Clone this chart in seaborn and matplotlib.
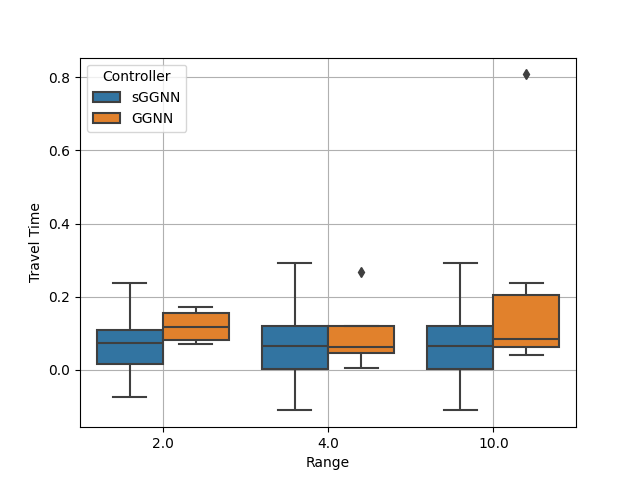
import matplotlib
matplotlib.use("Agg")
import matplotlib.pyplot as plt
import seaborn as sns
import pandas as pd

ranges = [2.0, 4.0, 10.0]
controllers = ["sGGNN", "GGNN"]

# Sample travel times per (range, controller), chosen to reproduce the box statistics
sggnn_2 = [-0.073, 0.0, 0.015, 0.05, 0.074, 0.09, 0.110, 0.15, 0.237]
ggnn_2 = [0.070, 0.075, 0.081, 0.10, 0.117, 0.13, 0.156, 0.165, 0.171]
sggnn_4 = [-0.111, -0.05, 0.003, 0.03, 0.065, 0.09, 0.120, 0.2, 0.291]
ggnn_4 = [0.006, 0.03, 0.047, 0.055, 0.062, 0.09, 0.121, 0.121, 0.268]
sggnn_10 = [-0.111, -0.05, 0.003, 0.03, 0.065, 0.09, 0.120, 0.2, 0.291]
ggnn_10 = [0.040, 0.05, 0.062, 0.07, 0.084, 0.15, 0.206, 0.237, 0.808]

groups = {
    (2.0, "sGGNN"): sggnn_2, (2.0, "GGNN"): ggnn_2,
    (4.0, "sGGNN"): sggnn_4, (4.0, "GGNN"): ggnn_4,
    (10.0, "sGGNN"): sggnn_10, (10.0, "GGNN"): ggnn_10,
}
rows = []
for (r, c), vals in groups.items():
    for v in vals:
        rows.append({"Range": r, "Controller": c, "Travel Time": v})
df = pd.DataFrame(rows)

fig, ax = plt.subplots(figsize=(6.4, 4.8), dpi=100)
line_c = "#3f3f3f"
sns.boxplot(data=df, x="Range", y="Travel Time", hue="Controller",
            order=ranges, hue_order=controllers, saturation=0.75,
            linecolor=line_c, linewidth=1.5, width=0.8, gap=0,
            flierprops=dict(marker="d", markerfacecolor=line_c,
                            markeredgecolor=line_c, markersize=5),
            ax=ax)
ax.grid(True)
ax.set_axisbelow(True)
ax.legend(title="Controller", loc="upper left")
fig.savefig("out.png", dpi=100)
